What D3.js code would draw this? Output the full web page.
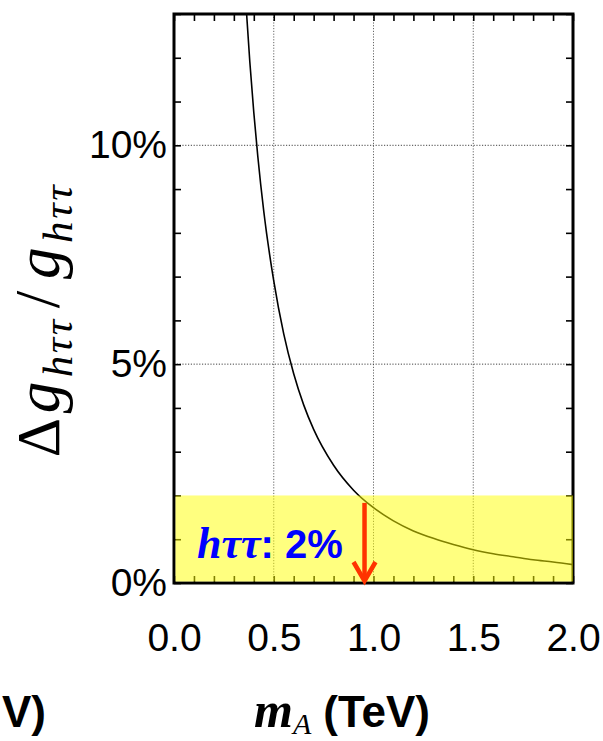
<!DOCTYPE html>
<html>
<head>
<meta charset="utf-8">
<script src="https://cdn.jsdelivr.net/npm/d3@7"></script>
<style>
  html, body { margin: 0; padding: 0; background: #fff; }
  svg { display: block; }
</style>
</head>
<body>
<script>
// ---- data ----
const massTeV = [0.35, 0.36, 0.38, 0.40, 0.42, 0.45, 0.50, 0.55, 0.60, 0.65, 0.70, 0.80, 0.90, 1.00, 1.10, 1.20, 1.30, 1.40, 1.50, 1.60, 1.70, 1.80, 1.90, 2.00];
const deltaPct = [14.0, 13.27, 11.91, 10.75, 9.75, 8.49, 6.90, 5.69, 4.78, 4.07, 3.51, 2.69, 2.12, 1.72, 1.42, 1.19, 1.02, 0.88, 0.76, 0.67, 0.60, 0.53, 0.48, 0.42];
const xMajorTicks = [0.0, 0.5, 1.0, 1.5, 2.0];
const xTickLabels = ["0.0", "0.5", "1.0", "1.5", "2.0"];
const yMajorTicks = [0, 5, 10];
const yTickLabels = ["0%", "5%", "10%"];
const xGrid = [0.5, 1.0, 1.5];
const yGrid = [5, 10];
const xDomain = [0, 2];
const yDomain = [0, 13];
const targetPct = 2;          // yellow band: h tau tau 2%
const arrowMass = 0.955;      // red arrow position (TeV)
const arrowTop = 1.83;        // arrow starts (%)

const W = 603, H = 741;
const L = 174, R = 573, T = 14, B = 583;

const svg = d3.select("body").append("svg").attr("width", W).attr("height", H);

const x = d3.scaleLinear().domain(xDomain).range([L, R]);
const y = d3.scaleLinear().domain(yDomain).range([B, T]);

const xMinor = d3.range(0, 21).map(i => i / 10);
const yMinor = d3.range(0, 14);

svg.append("defs").append("clipPath").attr("id", "plotclip")
  .append("rect").attr("x", L).attr("y", T).attr("width", R - L).attr("height", B - T);

// grid
const grid = svg.append("g");
grid.selectAll(".vg").data(xGrid).join("line")
  .attr("x1", d => x(d)).attr("x2", d => x(d)).attr("y1", T).attr("y2", B)
  .attr("stroke", "#666").attr("stroke-width", 1).attr("stroke-dasharray", "1.2,1.6");
grid.selectAll(".hg").data(yGrid).join("line")
  .attr("y1", d => y(d)).attr("y2", d => y(d)).attr("x1", L).attr("x2", R)
  .attr("stroke", "#444").attr("stroke-width", 1).attr("stroke-dasharray", "1.2,1.6");

// curve
const line = d3.line().x((d, i) => x(massTeV[i])).y(d => y(d)).curve(d3.curveMonotoneX);
svg.append("path").datum(deltaPct)
  .attr("clip-path", "url(#plotclip)")
  .attr("d", line).attr("fill", "none").attr("stroke", "#000").attr("stroke-width", 1.6);

// ticks (inward, all four sides)
const tk = 7;
function styleTicks(g) {
  g.select(".domain").remove();
  g.selectAll(".tick line").attr("stroke", "#000").attr("stroke-width", 1.6);
}
svg.append("g").attr("transform", `translate(0,${B})`)
  .call(d3.axisBottom(x).tickValues(xMinor).tickSize(-tk).tickFormat(""))
  .call(styleTicks);
svg.append("g").attr("transform", `translate(0,${T})`)
  .call(d3.axisTop(x).tickValues(xMinor).tickSize(-tk).tickFormat(""))
  .call(styleTicks);
svg.append("g").attr("transform", `translate(${L},0)`)
  .call(d3.axisLeft(y).tickValues(yMinor).tickSize(-tk).tickFormat(""))
  .call(styleTicks);
svg.append("g").attr("transform", `translate(${R},0)`)
  .call(d3.axisRight(y).tickValues(yMinor).tickSize(-tk).tickFormat(""))
  .call(styleTicks);

// frame
svg.append("rect").attr("x", L).attr("y", T).attr("width", R - L).attr("height", B - T)
  .attr("fill", "none").attr("stroke", "#000").attr("stroke-width", 3);

// yellow band (semi-transparent, over everything inside)
svg.append("rect")
  .attr("x", x(xDomain[0]) + 1.5).attr("y", y(targetPct))
  .attr("width", x(xDomain[1]) - x(xDomain[0]) - 1.5)
  .attr("height", y(0) - y(targetPct) - 1.5)
  .attr("fill", "#ffff00").attr("fill-opacity", 0.5);

// tick labels
const xLab = svg.append("g").attr("transform", `translate(0,${B})`)
  .call(d3.axisBottom(x).tickValues(xMajorTicks).tickSize(0).tickPadding(40)
    .tickFormat((d, i) => xTickLabels[i]));
xLab.select(".domain").remove();
xLab.selectAll("text").attr("font-family", "'Liberation Sans', Arial, sans-serif")
  .attr("font-size", 39).attr("fill", "#000");

const yLab = svg.append("g").attr("transform", `translate(${L},0)`)
  .call(d3.axisLeft(y).tickValues(yMajorTicks).tickSize(0).tickPadding(7)
    .tickFormat((d, i) => yTickLabels[i]));
yLab.select(".domain").remove();
yLab.selectAll("text").attr("font-family", "'Liberation Sans', Arial, sans-serif")
  .attr("font-size", 39).attr("fill", "#000");

// red arrow
const ax = x(arrowMass);
const arrow = svg.append("g").attr("stroke", "#ff3300").attr("fill", "none")
  .attr("stroke-width", 4.5).attr("stroke-linecap", "butt");
arrow.append("line").attr("x1", ax).attr("x2", ax).attr("y1", y(arrowTop)).attr("y2", y(0) - 3);
arrow.append("polyline")
  .attr("points", `${ax - 11},${y(0) - 21} ${ax},${y(0) - 2} ${ax + 11},${y(0) - 21}`)
  .attr("stroke-linejoin", "miter");

// annotation
const ann = svg.append("text").attr("x", 197).attr("y", 558).attr("fill", "#0000ff")
  .attr("font-weight", "bold").attr("font-size", 40);
ann.append("tspan").attr("font-family", "'Liberation Serif', 'Times New Roman', serif")
  .attr("font-style", "italic").attr("font-size", 44).text("hττ");
ann.append("tspan").attr("font-family", "'Liberation Sans', Arial, sans-serif").text(": 2%");

// y axis title
const yt = svg.append("text")
  .attr("transform", "translate(59,320) rotate(-90)")
  .attr("text-anchor", "middle")
  .attr("letter-spacing", 2.6)
  .attr("font-family", "'Liberation Serif', 'DejaVu Serif', serif")
  .attr("font-size", 63).attr("fill", "#000");
yt.append("tspan").attr("font-size", 61).text("Δ");
yt.append("tspan").attr("font-style", "italic").attr("dx", 2).text("g");
yt.append("tspan").attr("font-style", "italic").attr("font-size", 43).attr("dy", 13).attr("dx", 2).text("hττ");
yt.append("tspan").attr("dy", -13).attr("dx", 9).text("/");
yt.append("tspan").attr("font-style", "italic").attr("dx", 9).text("g");
yt.append("tspan").attr("font-style", "italic").attr("font-size", 43).attr("dy", 13).attr("dx", 2).text("hττ");

// x axis title
const xt = svg.append("text").attr("x", 254).attr("y", 727).attr("fill", "#000");
xt.append("tspan").attr("font-family", "'Liberation Serif', 'Times New Roman', serif")
  .attr("font-style", "italic").attr("font-weight", "bold").attr("font-size", 50).text("m");
xt.append("tspan").attr("font-family", "'Liberation Serif', 'Times New Roman', serif")
  .attr("font-style", "italic").attr("font-size", 30).attr("dy", 7).text("A");
xt.append("tspan").attr("font-family", "'Liberation Sans', Arial, sans-serif")
  .attr("font-weight", "bold").attr("font-size", 44).attr("dy", -7).attr("dx", 12).text("(TeV)");

// remnant of neighbouring panel's axis title at the left edge
svg.append("text").attr("x", 46).attr("y", 727).attr("text-anchor", "end")
  .attr("font-family", "'Liberation Sans', Arial, sans-serif")
  .attr("font-weight", "bold").attr("font-size", 44).attr("fill", "#000").text("V)");
</script>
</body>
</html>
